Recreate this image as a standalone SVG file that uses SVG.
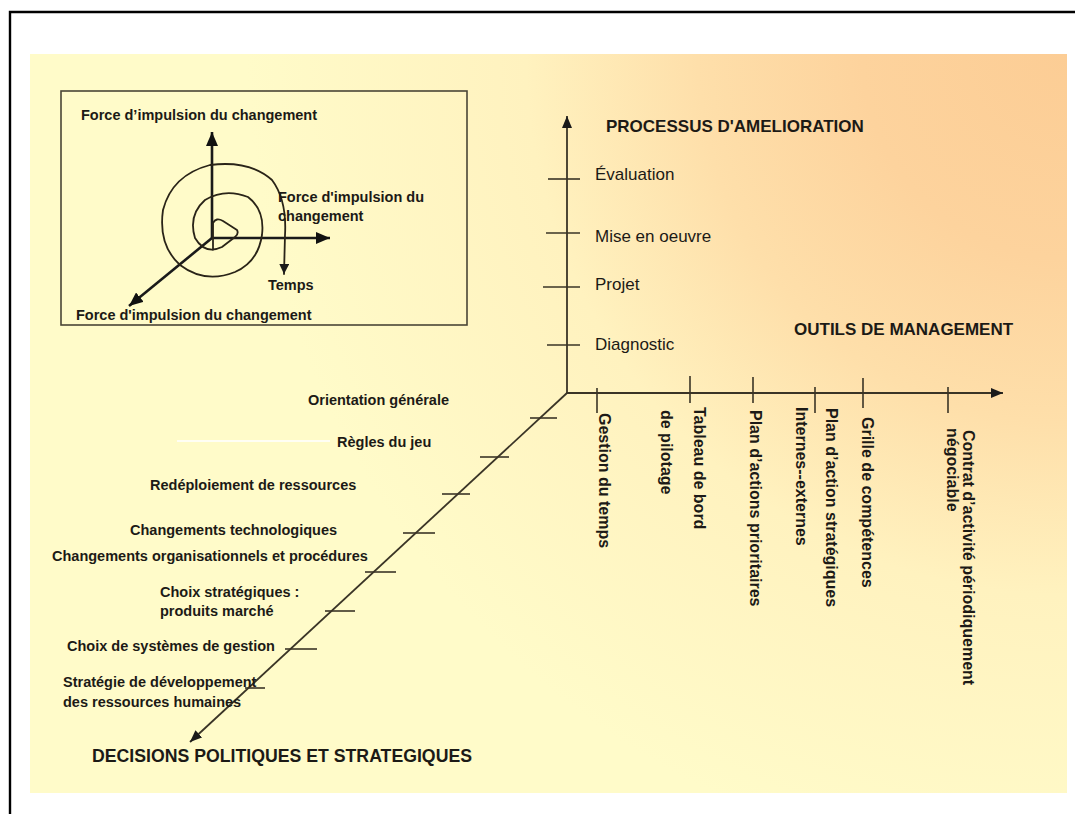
<svg xmlns="http://www.w3.org/2000/svg" width="1075" height="814" viewBox="0 0 1075 814">
  <style>
    text { font-family: "Liberation Sans", Arial, sans-serif; fill: #1c1a16; }
    .b { font-weight: bold; }
    .lab { font-size: 14.5px; font-weight: bold; }
    .ttl { font-size: 17px; font-weight: bold; }
    .reg { font-size: 17px; }
    .rot { font-size: 16px; font-weight: bold; }
    .ins { font-size: 14.5px; font-weight: bold; }
    .axis { stroke: #3a3426; stroke-width: 1.8; fill: none; }
    .tick { stroke: #3a3426; stroke-width: 1.6; fill: none; }
    .iax { stroke: #1a1a1a; stroke-width: 2.6; fill: none; }
    .spiral { stroke: #2a2418; stroke-width: 1.8; fill: none; stroke-linejoin: round; stroke-linecap: round; }
  </style>
  <defs>
    <radialGradient id="bg" gradientUnits="userSpaceOnUse" cx="1067" cy="54" r="820">
      <stop offset="0" stop-color="#FCCD95"/>
      <stop offset="0.25" stop-color="#FDD39D"/>
      <stop offset="0.45" stop-color="#FEDFAA"/>
      <stop offset="0.66" stop-color="#FFF2BF"/>
      <stop offset="1" stop-color="#FFFBC9"/>
    </radialGradient>
    <marker id="ah" viewBox="0 0 12 10" refX="12" refY="5" markerWidth="12" markerHeight="10" orient="auto" markerUnits="userSpaceOnUse">
      <path d="M0,0 L12,5 L0,10 z" fill="#1a1a1a"/>
    </marker>
    <marker id="ahi" viewBox="0 0 14 12" refX="14" refY="6" markerWidth="14" markerHeight="12" orient="auto" markerUnits="userSpaceOnUse">
      <path d="M0,0 L14,6 L0,12 z" fill="#111"/>
    </marker>
    <marker id="ahs" viewBox="0 0 10 10" refX="10" refY="5" markerWidth="10" markerHeight="10" orient="auto" markerUnits="userSpaceOnUse">
      <path d="M0,0 L10,5 L0,10 z" fill="#1a1a1a"/>
    </marker>
  </defs>

  <rect id="page" x="0" y="0" width="1075" height="814" fill="#ffffff"/>
  <path id="frame" d="M10,814 L10,12 L1075,12" stroke="#000" stroke-width="2.4" fill="none"/>
  <rect id="background" x="30" y="54" width="1037" height="739" fill="url(#bg)"/>

  <!-- Inset box -->
  <g id="inset">
    <rect x="61" y="91" width="406" height="234" fill="none" stroke="#4a4536" stroke-width="1.6"/>
    <line class="iax" x1="212" y1="238" x2="212" y2="132" marker-end="url(#ahi)"/>
    <line class="iax" x1="212" y1="238" x2="330" y2="238" marker-end="url(#ahi)"/>
    <line class="iax" x1="212" y1="238" x2="129" y2="306" marker-end="url(#ahi)"/>
    <path class="spiral" d="M213,250 L213,223 Q216,217 223,221 L237,230 Q239,234 235,237 L222,247 Q205,255 195,238 Q188,215 205,200 Q225,188 248,197 Q265,210 262,235 Q258,262 235,272 Q205,284 180,265 Q158,245 163,210 Q172,175 210,165 Q250,160 272,180 Q287,200 285,235 L284,274" marker-end="url(#ahs)"/>
    <text class="ins" x="81" y="120">Force d’impulsion du changement</text>
    <text class="ins" x="278" y="202">Force d'impulsion du</text>
    <text class="ins" x="278" y="221">changement</text>
    <text class="ins" x="268" y="290">Temps</text>
    <text class="ins" x="76" y="320">Force d'impulsion du changement</text>
  </g>

  <!-- Connectors: axes and ticks -->
  <g id="connectors">
    <line class="axis" x1="567" y1="393" x2="567" y2="116" marker-end="url(#ah)"/>
    <line class="axis" x1="566" y1="393" x2="1003" y2="393" marker-end="url(#ah)"/>
    <line class="axis" x1="567" y1="393" x2="190" y2="742" marker-end="url(#ah)"/>
    <!-- vertical ticks -->
    <line class="tick" x1="548" y1="179" x2="580" y2="179"/>
    <line class="tick" x1="546" y1="233" x2="580" y2="233"/>
    <line class="tick" x1="543" y1="287" x2="580" y2="287"/>
    <line class="tick" x1="547" y1="345" x2="580" y2="345"/>
    <!-- horizontal ticks -->
    <line class="tick" x1="597" y1="388" x2="597" y2="413"/>
    <line class="tick" x1="690" y1="376" x2="690" y2="403"/>
    <line class="tick" x1="753" y1="377" x2="753" y2="403"/>
    <line class="tick" x1="815" y1="387" x2="815" y2="413"/>
    <line class="tick" x1="863" y1="378" x2="863" y2="408"/>
    <line class="tick" x1="948" y1="387" x2="948" y2="413"/>
    <!-- diagonal ticks -->
    <line class="tick" x1="530" y1="418" x2="557" y2="418"/>
    <line class="tick" x1="480" y1="457" x2="509" y2="457"/>
    <line class="tick" x1="442" y1="494" x2="470" y2="494"/>
    <line class="tick" x1="403" y1="533" x2="435" y2="533"/>
    <line class="tick" x1="365" y1="572" x2="396" y2="572"/>
    <line class="tick" x1="325" y1="611" x2="355" y2="611"/>
    <line class="tick" x1="285" y1="649" x2="317" y2="649"/>
    <line class="tick" x1="245" y1="688" x2="265" y2="688"/>
    <line x1="177" y1="441" x2="330" y2="441" stroke="#ffffff" stroke-opacity="0.8" stroke-width="2"/>
  </g>

  <!-- Vertical axis labels -->
  <g id="processus">
    <text class="ttl" x="606" y="132">PROCESSUS D'AMELIORATION</text>
  </g>
  <g id="evaluation"><text class="reg" x="595" y="180">Évaluation</text></g>
  <g id="mise-en-oeuvre"><text class="reg" x="595" y="242">Mise en oeuvre</text></g>
  <g id="projet"><text class="reg" x="595" y="290">Projet</text></g>
  <g id="diagnostic"><text class="reg" x="595" y="350">Diagnostic</text></g>

  <!-- Horizontal axis labels -->
  <g id="outils"><text class="ttl" x="794" y="335">OUTILS DE MANAGEMENT</text></g>
  <g id="gestion-temps"><text class="rot" transform="translate(599,413) rotate(90)">Gestion du temps</text></g>
  <g id="tableau-bord">
    <text class="rot" transform="translate(661,410) rotate(90)">de pilotage</text>
    <text class="rot" transform="translate(694,407) rotate(90)">Tableau de bord</text>
  </g>
  <g id="plan-actions"><text class="rot" transform="translate(750,410) rotate(90)">Plan d’actions prioritaires</text></g>
  <g id="plan-strategiques">
    <text class="rot" transform="translate(826,408) rotate(90)">Plan d’action stratégiques</text>
    <text class="rot" transform="translate(796,407) rotate(90)">Internes--externes</text>
  </g>
  <g id="grille"><text class="rot" transform="translate(862,417) rotate(90)">Grille de compétences</text></g>
  <g id="contrat">
    <text class="rot" transform="translate(963,430) rotate(90)">Contrat d’activité périodiquement</text>
    <text class="rot" transform="translate(947,428) rotate(90)">négociable</text>
  </g>

  <!-- Diagonal axis labels -->
  <g id="orientation"><text class="lab" x="308" y="405">Orientation générale</text></g>
  <g id="regles"><text class="lab" x="337" y="447">Règles du jeu</text></g>
  <g id="redeploiement"><text class="lab" x="150" y="490">Redéploiement de ressources</text></g>
  <g id="chg-techno"><text class="lab" x="130" y="535">Changements technologiques</text></g>
  <g id="chg-org"><text class="lab" x="52" y="561">Changements organisationnels et procédures</text></g>
  <g id="choix-strat">
    <text class="lab" x="160" y="597">Choix stratégiques :</text>
    <text class="lab" x="160" y="616">produits marché</text>
  </g>
  <g id="choix-systemes"><text class="lab" x="67" y="651">Choix de systèmes de gestion</text></g>
  <g id="strategie-rh">
    <text class="lab" x="63" y="687">Stratégie de développement</text>
    <text class="lab" x="63" y="707">des ressources humaines</text>
  </g>
  <g id="decisions"><text class="ttl" x="92" y="762" style="font-size:17.7px">DECISIONS POLITIQUES ET STRATEGIQUES</text></g>
</svg>
